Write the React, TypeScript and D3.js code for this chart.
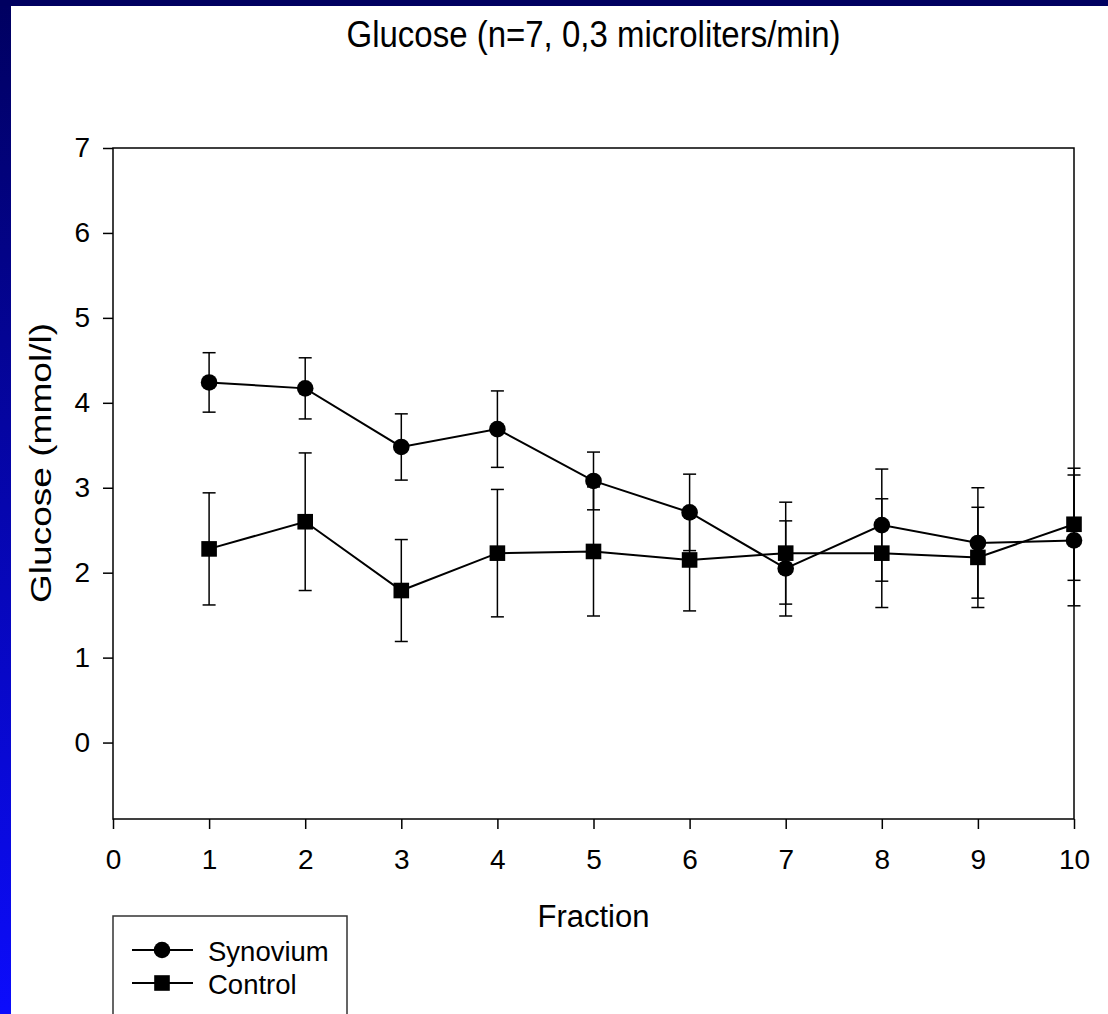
import React, { useEffect, useRef } from 'react';
import * as d3 from 'd3';

const fractions = [1, 2, 3, 4, 5, 6, 7, 8, 9, 10];
const synoviumMean = [4.24, 4.17, 3.48, 3.69, 3.08, 2.71, 2.05, 2.56, 2.35, 2.38];
const synoviumErr = [0.35, 0.36, 0.39, 0.45, 0.34, 0.45, 0.56, 0.66, 0.65, 0.77];
const controlMean = [2.28, 2.6, 1.79, 2.23, 2.25, 2.15, 2.23, 2.23, 2.18, 2.57];
const controlErr = [0.66, 0.81, 0.6, 0.75, 0.76, 0.6, 0.6, 0.64, 0.59, 0.66];
const xTicks = [0, 1, 2, 3, 4, 5, 6, 7, 8, 9, 10];
const yTicks = [0, 1, 2, 3, 4, 5, 6, 7];

const W = 1108;
const H = 1014;
const FONT = 'Arial, "Liberation Sans", Helvetica, sans-serif';

export default function App() {
  const svgRef = useRef<SVGSVGElement>(null);

  useEffect(() => {
    document.body.style.margin = '0';
    const svg = d3.select(svgRef.current);
    svg.selectAll('*').remove();

    // slide background
    const defs = svg.append('defs');
    const grad = defs.append('linearGradient')
      .attr('id', 'sideGrad')
      .attr('x1', 0).attr('y1', 0).attr('x2', 0).attr('y2', 1);
    grad.append('stop').attr('offset', '0%').attr('stop-color', '#000060');
    grad.append('stop').attr('offset', '100%').attr('stop-color', '#0c0cfc');

    svg.append('rect').attr('width', W).attr('height', H).attr('fill', '#fff');
    svg.append('rect').attr('x', 0).attr('y', 0).attr('width', 11).attr('height', H).attr('fill', 'url(#sideGrad)');
    svg.append('rect').attr('x', 0).attr('y', 0).attr('width', W).attr('height', 6).attr('fill', '#000060');

    const left = 113, right = 1074, top = 148, bottom = 819;

    const x = d3.scaleLinear().domain([0, 10]).range([left, right]);
    const y = d3.scaleLinear().domain([-0.9, 7]).range([bottom, top]);

    // frame
    svg.append('rect')
      .attr('x', left).attr('y', top)
      .attr('width', right - left).attr('height', bottom - top)
      .attr('fill', 'none').attr('stroke', '#000').attr('stroke-width', 1.5);

    // axes
    const yAxis = svg.append('g')
      .attr('transform', `translate(${left},0)`)
      .call(d3.axisLeft(y).tickValues(yTicks).tickSize(10).tickPadding(13).tickFormat(d3.format('d')));
    const xAxis = svg.append('g')
      .attr('transform', `translate(0,${bottom})`)
      .call(d3.axisBottom(x).tickValues(xTicks).tickSize(10).tickPadding(20).tickFormat(d3.format('d')));
    [yAxis, xAxis].forEach((g) => {
      g.select('.domain').remove();
      g.selectAll('line').attr('stroke', '#000').attr('stroke-width', 1.5);
      g.selectAll('text').attr('font-family', FONT).attr('font-size', 28).attr('fill', '#000');
    });

    // titles
    svg.append('text')
      .attr('transform', `translate(${(left + right) / 2},47) scale(1,1.12)`)
      .attr('text-anchor', 'middle')
      .attr('font-family', FONT).attr('font-size', 33)
      .text('Glucose (n=7, 0,3 microliters/min)');

    svg.append('text')
      .attr('x', (left + right) / 2).attr('y', 927)
      .attr('text-anchor', 'middle')
      .attr('font-family', FONT).attr('font-size', 31)
      .text('Fraction');

    svg.append('text')
      .attr('transform', `translate(51,463) rotate(-90)`)
      .attr('text-anchor', 'middle')
      .attr('font-family', FONT).attr('font-size', 30)
      .attr('textLength', 280).attr('lengthAdjust', 'spacingAndGlyphs')
      .text('Glucose (mmol/l)');

    const series = [
      { name: 'Control', mean: controlMean, err: controlErr, shape: 'square' },
      { name: 'Synovium', mean: synoviumMean, err: synoviumErr, shape: 'circle' },
    ];

    const line = d3.line<number>()
      .x((_, i) => x(fractions[i]))
      .y((d) => y(d));

    series.forEach((s) => {
      const g = svg.append('g');
      const cap = 6.5;
      s.mean.forEach((m, i) => {
        const cx = x(fractions[i]);
        const y0 = y(m - s.err[i]);
        const y1 = y(m + s.err[i]);
        g.append('line').attr('x1', cx).attr('x2', cx).attr('y1', y0).attr('y2', y1)
          .attr('stroke', '#000').attr('stroke-width', 1.5);
        [y0, y1].forEach((yy) => {
          g.append('line').attr('x1', cx - cap).attr('x2', cx + cap).attr('y1', yy).attr('y2', yy)
            .attr('stroke', '#000').attr('stroke-width', 1.5);
        });
      });
      g.append('path').attr('d', line(s.mean) as string)
        .attr('fill', 'none').attr('stroke', '#000').attr('stroke-width', 2);
      s.mean.forEach((m, i) => {
        const cx = x(fractions[i]);
        const cy = y(m);
        if (s.shape === 'circle') {
          g.append('circle').attr('cx', cx).attr('cy', cy).attr('r', 8.3).attr('fill', '#000');
        } else {
          g.append('rect').attr('x', cx - 7.8).attr('y', cy - 7.8).attr('width', 15.6).attr('height', 15.6).attr('fill', '#000');
        }
      });
    });

    // legend
    const lg = svg.append('g');
    lg.append('rect').attr('x', 113).attr('y', 916).attr('width', 234).attr('height', 120)
      .attr('fill', '#fff').attr('stroke', '#333').attr('stroke-width', 1.5);
    const legendItems = [
      { name: 'Synovium', shape: 'circle', cy: 950 },
      { name: 'Control', shape: 'square', cy: 983 },
    ];
    legendItems.forEach((it) => {
      lg.append('line').attr('x1', 132).attr('x2', 193).attr('y1', it.cy).attr('y2', it.cy)
        .attr('stroke', '#000').attr('stroke-width', 2);
      if (it.shape === 'circle') {
        lg.append('circle').attr('cx', 162).attr('cy', it.cy).attr('r', 8.3).attr('fill', '#000');
      } else {
        lg.append('rect').attr('x', 162 - 7.8).attr('y', it.cy - 7.8).attr('width', 15.6).attr('height', 15.6).attr('fill', '#000');
      }
      lg.append('text').attr('x', 208).attr('y', it.cy + 10.5)
        .attr('font-family', FONT).attr('font-size', 27.5).text(it.name);
    });
  }, []);

  return <svg ref={svgRef} width={W} height={H} style={{ display: 'block' }} />;
}
